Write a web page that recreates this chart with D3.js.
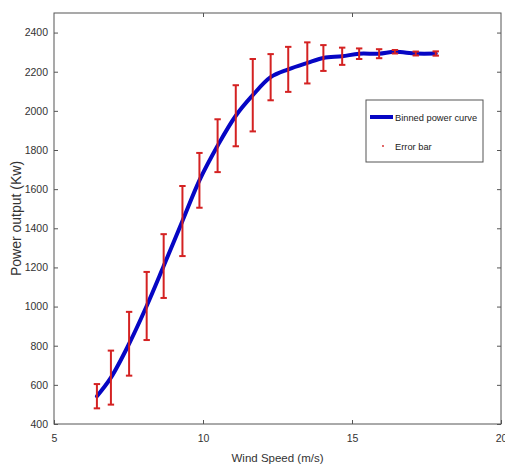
<!DOCTYPE html>
<html>
<head>
<meta charset="utf-8">
<script src="https://cdn.jsdelivr.net/npm/d3@7"></script>
<style>
  body { margin: 0; background: #fff; }
  text { font-family: "Liberation Sans", Arial, sans-serif; }
</style>
</head>
<body>
<div id="chart"></div>
<script>
// binned wind speed (m/s)
var windSpeed = [6.44, 6.91, 7.52, 8.11, 8.68, 9.31, 9.88, 10.49, 11.10, 11.67,
                 12.27, 12.86, 13.50, 14.04, 14.67, 15.24, 15.91, 16.44, 17.14, 17.81];
// mean power per bin (Kw)
var powerMean = [542, 637, 810, 1003, 1207, 1437, 1645, 1822, 1975, 2080,
                 2172, 2212, 2245, 2270, 2279, 2292, 2292, 2302, 2293, 2293];
// half length of the error bar (Kw)
var powerErr = [62, 138, 163, 174, 163, 179, 140, 135, 156, 185,
                118, 115, 105, 66, 44, 27, 23, 9, 10, 11];

var xTicks = [5, 10, 15, 20];
var yTicks = [400, 600, 800, 1000, 1200, 1400, 1600, 1800, 2000, 2200, 2400];
var legendLabels = ["Binned power curve", "Error bar"];

var W = 505, H = 465;
var margin = {top: 13, right: 4, bottom: 41, left: 54};
var w = W - margin.left - margin.right,
    h = H - margin.top - margin.bottom;

var axisColor = "#555",
    blue = "#0606c4",
    red = "#d42222";

var svg = d3.select("#chart").append("svg")
  .attr("width", W)
  .attr("height", H);

var g = svg.append("g")
  .attr("transform", "translate(" + margin.left + "," + margin.top + ")");

var x = d3.scaleLinear().domain([5, 20]).range([0, w]);
var y = d3.scaleLinear().domain([400, 2500]).range([h, 0]);

var data = windSpeed.map(function(s, i) {
  return {s: s, p: powerMean[i], e: powerErr[i]};
});

// box with inward ticks on every side (matlab style)
g.append("rect")
  .attr("width", w).attr("height", h)
  .attr("fill", "none").attr("stroke", axisColor).attr("stroke-width", 1);

function styleAxis(sel, labels) {
  sel.select(".domain").remove();
  sel.selectAll(".tick line").attr("stroke", axisColor);
  sel.selectAll(".tick text")
    .attr("fill", "#333")
    .style("font-size", "10.5px")
    .style("display", labels ? null : "none");
}

var fmt = d3.format("d");

g.append("g").attr("transform", "translate(0," + h + ")")
  .call(d3.axisBottom(x).tickValues(xTicks).tickFormat(fmt).tickSize(-4).tickPadding(11))
  .call(styleAxis, true);
g.append("g")
  .call(d3.axisTop(x).tickValues(xTicks.slice(1, -1)).tickSize(-4))
  .call(styleAxis, false);
g.append("g")
  .call(d3.axisLeft(y).tickValues(yTicks).tickFormat(fmt).tickSize(-4).tickPadding(6))
  .call(styleAxis, true);
g.append("g").attr("transform", "translate(" + w + ",0)")
  .call(d3.axisRight(y).tickValues(yTicks).tickSize(-4))
  .call(styleAxis, false);

// fitted curve
var line = d3.line()
  .x(function(d) { return x(d.s); })
  .y(function(d) { return y(d.p); })
  .curve(d3.curveCatmullRom.alpha(0.5));

g.append("path")
  .datum(data)
  .attr("d", line)
  .attr("fill", "none")
  .attr("stroke", blue)
  .attr("stroke-width", 4)
  .attr("stroke-linecap", "round");

// error bars
var bars = g.append("g").selectAll("g")
  .data(data)
  .enter().append("g")
  .attr("stroke", red)
  .attr("stroke-width", 2);

bars.append("line")
  .attr("x1", function(d) { return x(d.s); })
  .attr("x2", function(d) { return x(d.s); })
  .attr("y1", function(d) { return y(d.p - d.e); })
  .attr("y2", function(d) { return y(d.p + d.e); });

bars.selectAll(".cap")
  .data(function(d) { return [[d.s, d.p - d.e], [d.s, d.p + d.e]]; })
  .enter().append("line")
  .attr("class", "cap")
  .attr("x1", function(d) { return x(d[0]) - 3.2; })
  .attr("x2", function(d) { return x(d[0]) + 3.2; })
  .attr("y1", function(d) { return y(d[1]); })
  .attr("y2", function(d) { return y(d[1]); });

// axis titles
svg.append("text")
  .attr("x", margin.left + w / 2)
  .attr("y", 462)
  .attr("text-anchor", "middle")
  .attr("fill", "#333")
  .style("font-size", "11.5px")
  .text("Wind Speed (m/s)");

svg.append("text")
  .attr("transform", "translate(21," + (margin.top + h / 2) + ") rotate(-90)")
  .attr("text-anchor", "middle")
  .attr("fill", "#333")
  .style("font-size", "14px")
  .text("Power output (Kw)");

// legend
var lg = svg.append("g").attr("transform", "translate(366,100)");
lg.append("rect")
  .attr("width", 117).attr("height", 62)
  .attr("fill", "#fff").attr("stroke", axisColor).attr("stroke-width", 1);
lg.append("line")
  .attr("x1", 4).attr("x2", 27).attr("y1", 17).attr("y2", 17)
  .attr("stroke", blue).attr("stroke-width", 4);
lg.append("circle")
  .attr("cx", 17).attr("cy", 46).attr("r", 0.9)
  .attr("fill", red);
lg.selectAll(".lbl")
  .data(legendLabels)
  .enter().append("text")
  .attr("class", "lbl")
  .attr("x", 29)
  .attr("y", function(d, i) { return 21 + i * 29; })
  .attr("fill", "#222")
  .style("font-size", "9.3px")
  .text(function(d) { return d; });
</script>
</body>
</html>
